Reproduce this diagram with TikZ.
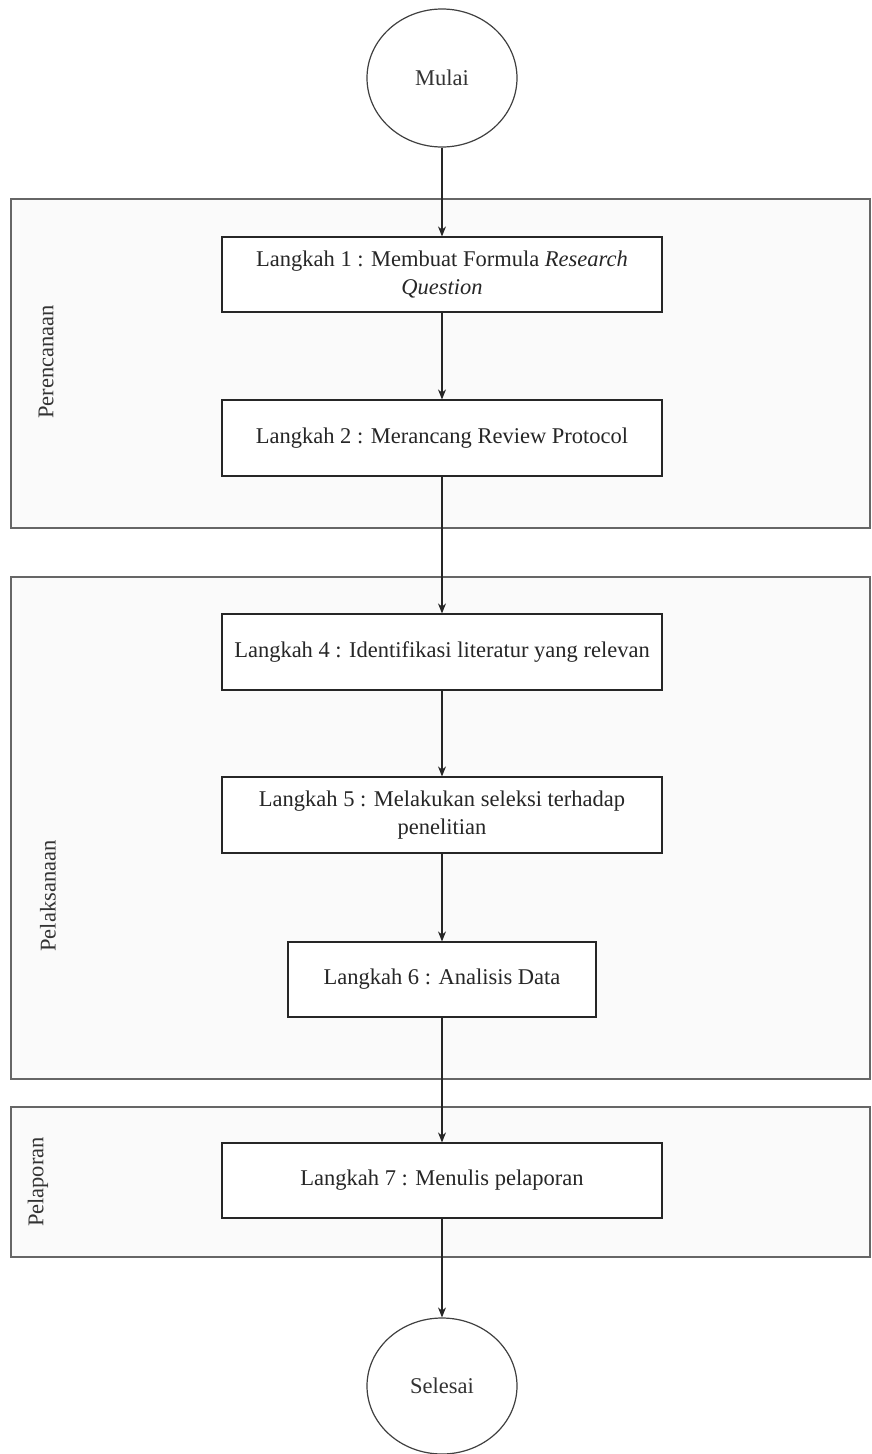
\documentclass[tikz,border=0pt]{standalone}
\usepackage{fontspec}
\setmainfont{Liberation Serif}
\usetikzlibrary{shapes.geometric,arrows.meta}
\begin{document}
\begin{tikzpicture}[x=1pt,y=-1pt,
  lane/.style={draw=black!60,line width=1.6pt,fill=black!2},
  stepbox/.style={draw=black!85,line width=1.2pt,fill=white,align=center,font=\fontsize{22.5}{28}\selectfont,text=black!85,inner sep=0pt},
  term/.style={ellipse,draw=black!75,line width=1.2pt,fill=white,font=\fontsize{22.5}{28}\selectfont,text=black!80,inner sep=0pt},
  lanelabel/.style={rotate=90,font=\fontsize{22.5}{28}\selectfont,text=black!80},
  flow/.style={draw=black!85,line width=1.1pt,-{Stealth[length=10pt,width=8pt]}}]
\useasboundingbox (0,0) rectangle (872,1454);
% lanes
\node[lane,minimum width=859pt,minimum height=329pt,anchor=north west] (lane1) at (10,198) {};
\node[lane,minimum width=859pt,minimum height=502pt,anchor=north west] (lane2) at (10,576) {};
\node[lane,minimum width=859pt,minimum height=150pt,anchor=north west] (lane3) at (10,1106) {};
\node[lanelabel] (l1) at (46,362) {Perencanaan};
\node[lanelabel] (l2) at (48,896) {Pelaksanaan};
\node[lanelabel] (l3) at (38,1182) {Pelaporan};
% terminals
\node[term,minimum width=150pt,minimum height=138pt] (start) at (442,78) {Mulai};
\node[term,minimum width=150pt,minimum height=136pt] (end) at (442,1386) {Selesai};
% steps
\node[stepbox,minimum width=440pt,minimum height=75pt] (s1) at (442,274.5) {Langkah 1 : Membuat Formula \textit{Research}\\\textit{Question}};
\node[stepbox,minimum width=440pt,minimum height=76pt] (s2) at (442,438) {Langkah 2 : Merancang Review Protocol};
\node[stepbox,minimum width=440pt,minimum height=76pt] (s4) at (442,652) {Langkah 4 : Identifikasi literatur yang relevan};
\node[stepbox,minimum width=440pt,minimum height=76pt] (s5) at (442,815) {Langkah 5 : Melakukan seleksi terhadap\\penelitian};
\node[stepbox,minimum width=308pt,minimum height=75pt] (s6) at (442,979.5) {Langkah 6 : Analisis Data};
\node[stepbox,minimum width=440pt,minimum height=75pt] (s7) at (442,1180.5) {Langkah 7 : Menulis pelaporan};
% connectors
\draw[flow] (start) -- (s1);
\draw[flow] (s1) -- (s2);
\draw[flow] (s2) -- (s4);
\draw[flow] (s4) -- (s5);
\draw[flow] (s5) -- (s6);
\draw[flow] (s6) -- (s7);
\draw[flow] (s7) -- (end);
\end{tikzpicture}
\end{document}
